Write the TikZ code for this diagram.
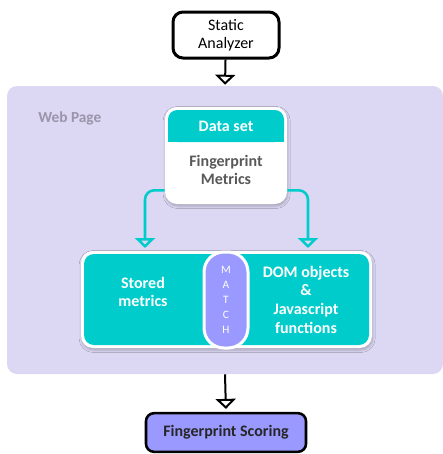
\documentclass[tikz,border=0pt]{standalone}
\usepackage{fontspec}
\setmainfont{Carlito}
\usetikzlibrary{arrows.meta,positioning,calc,shadows.blur}

\definecolor{pagebg}{HTML}{DCD7F2}
\definecolor{tealbox}{HTML}{00CCCC}
\definecolor{matchblue}{HTML}{9999FF}
\definecolor{labelgray}{HTML}{9A95AA}
\definecolor{textgray}{HTML}{595959}

\begin{document}
\begin{tikzpicture}[x=0.75pt,y=-0.75pt,
    every node/.style={font=\fontsize{12}{13.5}\selectfont, align=center, inner sep=0pt},
    flow/.style={draw=black, line width=1.5pt, -{Triangle[open,width=15pt,length=7.5pt]}},
    feed/.style={draw=tealbox, line width=1.9pt, rounded corners=7pt, -{Triangle[open,width=15pt,length=7.5pt]}},
    plainbox/.style={draw=black, fill=white, line width=2.25pt, rounded corners=7.5pt, minimum width=79.5pt, minimum height=34.5pt},
    pagebox/.style={fill=pagebg, rounded corners=7.5pt, minimum width=327pt, minimum height=216pt},
    card/.style={fill=white, rounded corners=9pt, minimum width=91.5pt, minimum height=72.75pt, blur shadow={shadow blur steps=5, shadow xshift=0.5pt, shadow yshift=-1.5pt, shadow opacity=25}},
    headbox/.style={fill=tealbox, rounded corners=7pt, minimum width=87pt, minimum height=24pt, text=white, font=\fontsize{12}{13.5}\selectfont\bfseries},
    whitetext/.style={text=white, font=\fontsize{12}{14}\selectfont\bfseries},
    matchpill/.style={fill=matchblue, draw=white, line width=2.25pt, rounded corners=15pt, minimum width=33pt, minimum height=72pt, text=white, font=\fontsize{8.5}{11.25}\selectfont},
    scorebox/.style={draw=black, fill=matchblue, line width=1.9pt, rounded corners=6pt, minimum width=120pt, minimum height=29pt, text=black!85, font=\fontsize{12}{13.5}\selectfont\bfseries}]
  \useasboundingbox (0,0) rectangle (443,454);

  % Web page area
  \node[pagebox] (webpage) at (225,230) {};
  \node[anchor=west, text=labelgray, font=\fontsize{11.5}{13.5}\selectfont\bfseries] (pagelabel) at (38,118) {Web Page};

  \node[plainbox] (analyzer) at (226,35) {Static\\Analyzer};
  \draw[flow, shorten >=0.75pt] (analyzer) -- (webpage.north);

  % Data set card
  \node[card] (dataset) at (226,155.5) {};
  \node[headbox, below=2.25pt of dataset.north] (datahead) {Data set};
  \fill[tealbox] ($(datahead.south west)+(0,-10)$) rectangle (datahead.south east);
  \node[text=textgray, font=\fontsize{12}{13}\selectfont\bfseries] (metrics) at (226,170) {Fingerprint\\Metrics};

  % Stored metrics / MATCH / DOM objects
  \node[fill=white, rounded corners=9pt, minimum width=218.25pt, minimum height=72.75pt, blur shadow={shadow blur steps=5, shadow xshift=0.5pt, shadow yshift=-1.5pt, shadow opacity=25}] (pair) at (226.5,299.5) {};
  \node[fill=tealbox, rounded corners=7.5pt, minimum width=213.75pt, minimum height=68.25pt] (panel) at (pair.center) {};
  \node[whitetext] (stored) at (143,292) {Stored\\metrics};
  \node[whitetext] (dom) at (306,299.5) {DOM objects\\\&\\Javascript\\functions};
  \node[matchpill] (match) at (226,300) {M\\A\\T\\C\\H};

  \coordinate (storedin) at (145,248);
  \coordinate (domin) at (308,248);
  \draw[feed] ($(dataset.south west)+(0,-14)$) -| (storedin);
  \draw[feed] ($(dataset.south east)+(0,-14)$) -| (domin);

  % Scoring
  \node[scorebox] (scoring) at (226,432.5) {Fingerprint Scoring};
  \draw[flow, shorten >=2.25pt] (webpage.south) -- (scoring.north);
\end{tikzpicture}
\end{document}
